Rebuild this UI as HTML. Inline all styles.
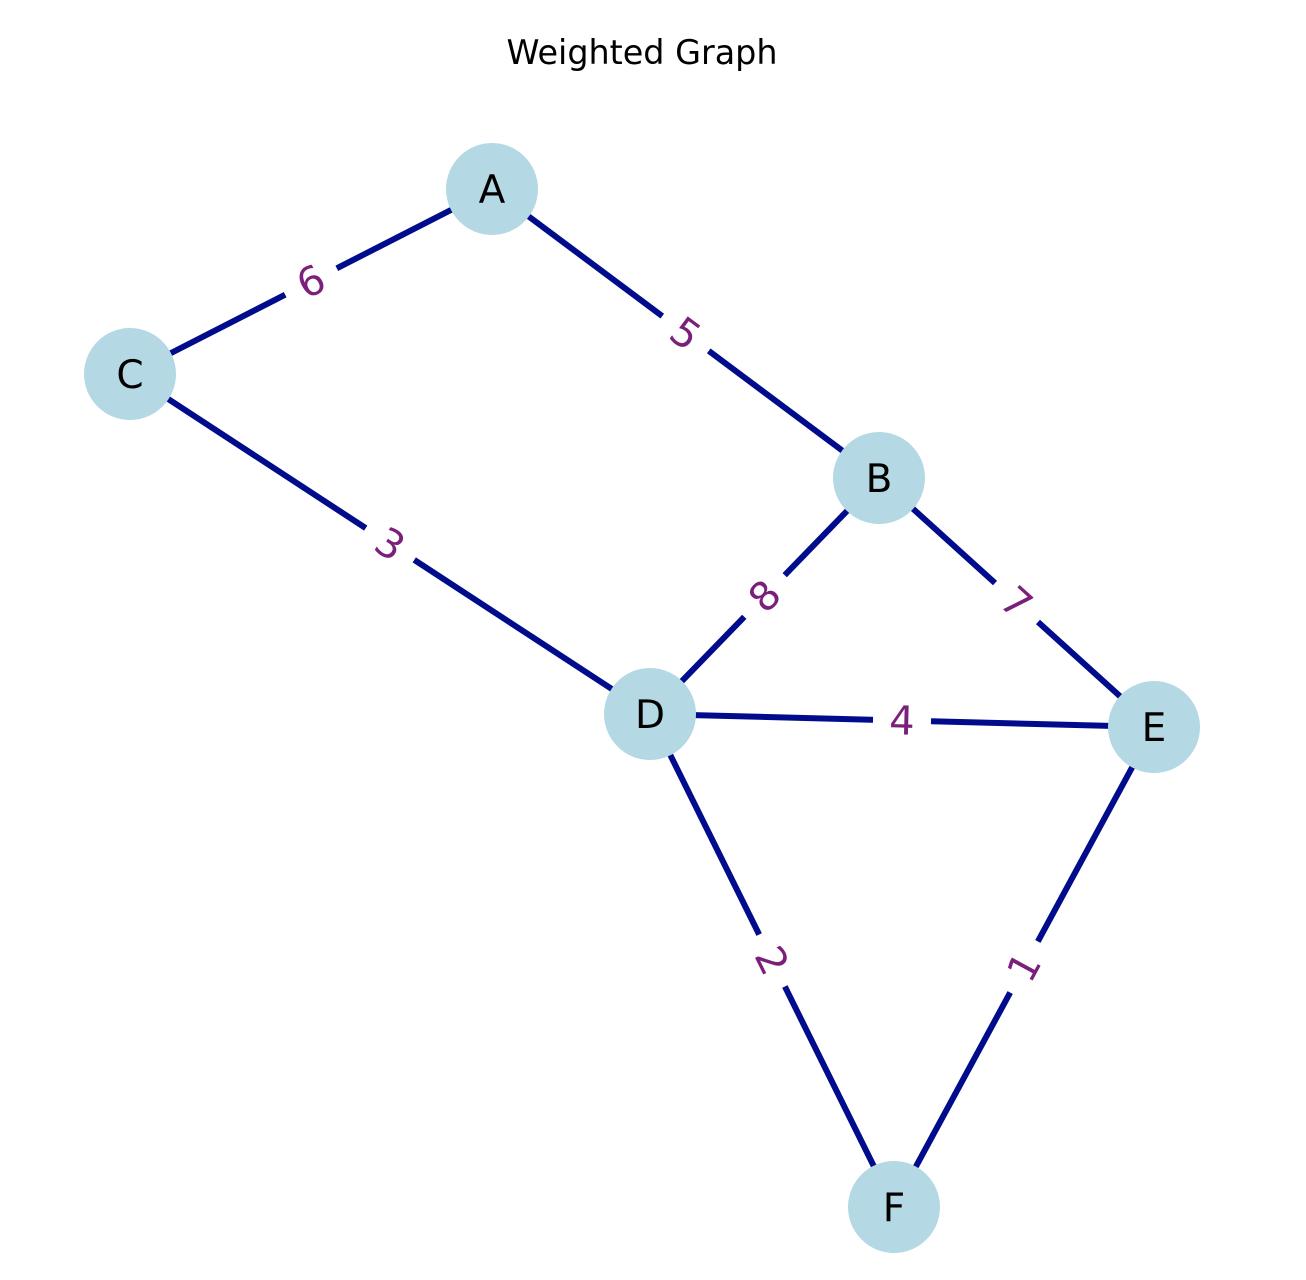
<!DOCTYPE html>
<html><head><meta charset="utf-8"><style>
body{margin:0;background:#fff}
svg{display:block}
text{font-family:"DejaVu Sans","Liberation Sans",sans-serif}
</style></head><body>
<svg id="chart" width="1306" height="1280" xmlns="http://www.w3.org/2000/svg">
<text x="642" y="64" text-anchor="middle" font-size="33.4" fill="#000">Weighted Graph</text>
<g id="edges"></g><g id="labels"></g><g id="nodes"></g>
</svg>
<script>
const nodeNames=["A","B","C","D","E","F"];
const nodeX=[492,879,130,650,1154,894];
const nodeY=[189,478,374,714,727,1207];
const edgeFrom=["A","A","B","B","C","D","D","E"];
const edgeTo=["C","B","D","E","D","E","F","F"];
const edgeWeights=[6,5,8,7,3,4,2,1];
const NS="http://www.w3.org/2000/svg";
const pos=n=>{const i=nodeNames.indexOf(n);return [nodeX[i],nodeY[i]];};
const eg=document.getElementById('edges'),lg=document.getElementById('labels'),ng=document.getElementById('nodes');
edgeFrom.forEach((f,i)=>{
  const [x1,y1]=pos(f),[x2,y2]=pos(edgeTo[i]);
  const l=document.createElementNS(NS,'line');
  l.setAttribute('x1',x1);l.setAttribute('y1',y1);l.setAttribute('x2',x2);l.setAttribute('y2',y2);
  l.setAttribute('stroke','#000c8b');l.setAttribute('stroke-width','6');
  
  
  eg.appendChild(l);
  const mx=(x1+x2)/2,my=(y1+y2)/2;
  let a=Math.atan2(y2-y1,x2-x1)*180/Math.PI;
  if(a>90)a-=180; if(a<-90)a+=180;
  const g=document.createElementNS(NS,'g');
  g.setAttribute('transform',`translate(${mx},${my}) rotate(${a})`);
  
  
  const r=document.createElementNS(NS,'rect');
  r.setAttribute('x',-29);r.setAttribute('y',-25);r.setAttribute('width',58);r.setAttribute('height',50);r.setAttribute('fill','#fff');
  g.appendChild(r);
  const t=document.createElementNS(NS,'text');
  t.setAttribute('text-anchor','middle');t.setAttribute('y',14);t.setAttribute('font-size','40');t.setAttribute('fill','#7a1f7a');
  t.textContent=edgeWeights[i];
  g.appendChild(t);
  lg.appendChild(g);
});
nodeNames.forEach((n,i)=>{
  const c=document.createElementNS(NS,'circle');
  c.setAttribute('cx',nodeX[i]);c.setAttribute('cy',nodeY[i]);c.setAttribute('r',46);c.setAttribute('fill','#b4d8e4');
  
  
  ng.appendChild(c);
  const t=document.createElementNS(NS,'text');
  t.setAttribute('x',nodeX[i]);t.setAttribute('y',nodeY[i]+14);t.setAttribute('text-anchor','middle');t.setAttribute('font-size','39');t.setAttribute('fill','#000');
  t.textContent=n;
  
  
  ng.appendChild(t);
});
</script>
</body></html>
